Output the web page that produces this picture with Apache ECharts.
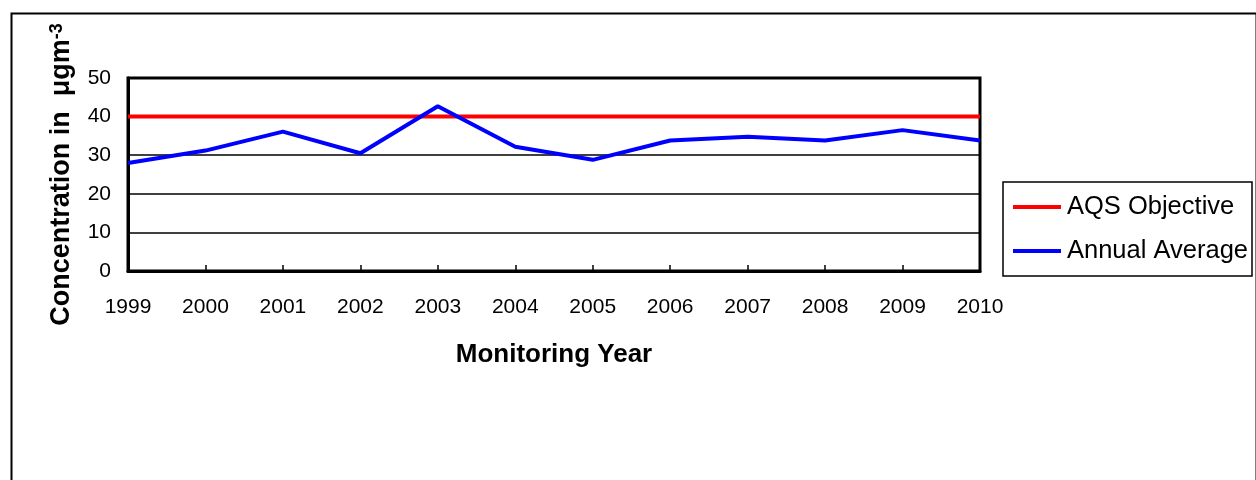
<!DOCTYPE html>
<html>
<head>
<meta charset="utf-8">
<title>Annual Average Concentration</title>
<script src="https://cdn.jsdelivr.net/npm/echarts@6/dist/echarts.min.js"></script>
<style>
  html, body { margin: 0; padding: 0; background: #fff; }
  #chart { width: 1256px; height: 480px; }
</style>
</head>
<body>
<div id="chart"></div>
<script>
// monitoring years (x axis categories)
const years = ['1999', '2000', '2001', '2002', '2003', '2004', '2005', '2006', '2007', '2008', '2009', '2010']
// air quality strategy objective, ugm-3
const aqsObjective = [40, 40, 40, 40, 40, 40, 40, 40, 40, 40, 40, 40]
// measured annual average, ugm-3
const annualAverage = [28.0, 31.2, 36.1, 30.5, 42.7, 32.2, 28.8, 33.8, 34.8, 33.8, 36.5, 33.8]

const fontFamily = '"Liberation Sans", Arial, sans-serif'

const chart = echarts.init(document.getElementById('chart'))

chart.setOption({
  animation: false,
  backgroundColor: '#fff',
  textStyle: { fontFamily },
  graphic: [{
    // outer chart frame
    type: 'rect',
    left: 9,
    top: 11,
    shape: { width: 1245, height: 520 },
    style: { fill: 'none', stroke: '#000', lineWidth: 2 },
    silent: true
  }],
  grid: {
    left: 128,
    top: 78,
    right: 276,
    bottom: 209,
    show: true,
    borderColor: '#000',
    borderWidth: 3
  },
  legend: {
    orient: 'vertical',
    left: 1003,
    top: 182,
    padding: [12, 4, 12, 10],
    itemGap: 18,
    itemWidth: 48,
    itemHeight: 4,
    icon: 'rect',
    borderColor: '#000',
    borderWidth: 1.5,
    textStyle: { fontSize: 25.5, color: '#000', fontFamily, padding: [0, 0, 0, 1] },
    data: ['AQS Objective', 'Annual Average']
  },
  xAxis: {
    type: 'category',
    data: years,
    boundaryGap: false,
    name: 'Monitoring Year',
    nameLocation: 'middle',
    nameGap: 71,
    nameTextStyle: { fontSize: 26, fontWeight: 'bold', color: '#000', fontFamily },
    axisLine: { lineStyle: { color: '#000', width: 3 } },
    axisTick: { inside: true, length: 6, lineStyle: { color: '#000', width: 1.5 } },
    axisLabel: { fontSize: 21, color: '#000', margin: 26, fontFamily },
    splitLine: { show: false }
  },
  yAxis: {
    type: 'value',
    min: 0,
    max: 50,
    interval: 10,
    name: '{a|Concentration in  \u03bcgm}{b|-3}',
    nameLocation: 'middle',
    nameGap: 53,
    nameTextStyle: {
      rich: {
        a: { fontSize: 27, fontWeight: 'bold', color: '#000', fontFamily },
        b: { fontSize: 18, fontWeight: 'bold', color: '#000', fontFamily, verticalAlign: 'top' }
      }
    },
    axisLine: { show: true, lineStyle: { color: '#000', width: 3 } },
    axisTick: { show: false },
    axisLabel: { fontSize: 21, color: '#000', margin: 17, fontFamily },
    splitLine: { lineStyle: { color: '#000', width: 1.5 } }
  },
  series: [{
    name: 'AQS Objective',
    type: 'line',
    data: aqsObjective,
    showSymbol: false,
    itemStyle: { color: '#ff0000' },
    lineStyle: { color: '#ff0000', width: 4 }
  }, {
    name: 'Annual Average',
    type: 'line',
    data: annualAverage,
    showSymbol: false,
    itemStyle: { color: '#0000ff' },
    lineStyle: { color: '#0000ff', width: 4 }
  }]
})
</script>
</body>
</html>
